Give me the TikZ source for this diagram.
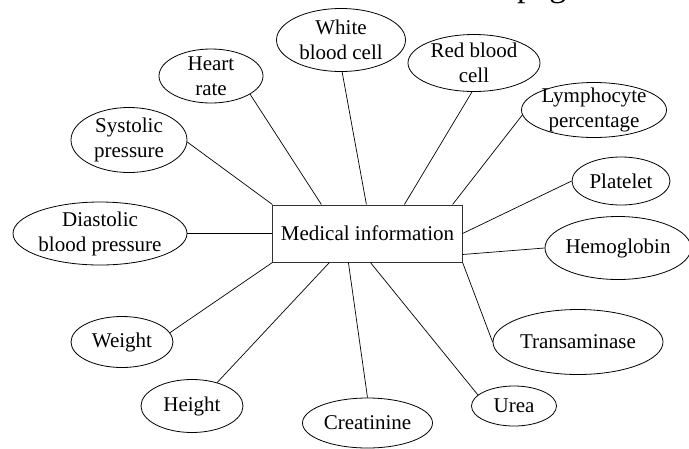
\documentclass[tikz,border=0pt]{standalone}
\usepackage{fontspec}
\setmainfont{Liberation Serif}
\usepackage{tikz}
\usetikzlibrary{shapes.geometric,positioning}
\tikzset{
    attr/.style={
        draw=black,
        fill=white,
        ellipse,
        inner sep=-4pt,
        align=center,
        line width=0.8pt,
        font=\fontsize{21}{25}\selectfont
    },
    entity/.style={
        draw=black!80,
        fill=white,
        rectangle,
        inner xsep=8pt,
        minimum width=189pt,
        minimum height=57pt,
        line width=1pt,
        font=\fontsize{21}{25}\selectfont
    },
    link/.style={
        draw=black,
        line width=0.7pt
    }
}

\begin{document}
\begin{tikzpicture}[x=1pt, y=-1pt, on grid]
    \useasboundingbox (0,0) rectangle (689,448);
    \clip (0,0) rectangle (689,448);

    % Cut-off caption at the top
    \node[anchor=south west, inner sep=0pt, font=\fontsize{34}{40}\selectfont] (capt) at (517,4) {page};

    % Centre
    \node[entity] (med) at (367.5,233.5) {Medical information};

    % Upper ring
    \node[attr, minimum width=129pt, minimum height=63pt, above left=193.5pt and 26.5pt of med] (wbc) {White\\blood cell};
    \node[attr, minimum width=132pt, minimum height=57pt, above right=170.5pt and 106.5pt of med] (rbc) {Red blood\\cell};
    \node[attr, minimum width=104pt, minimum height=54pt, above left=157.5pt and 156.5pt of med] (hr) {Heart\\rate};
    \node[attr, minimum width=145pt, minimum height=55pt, above right=123.5pt and 226.5pt of med] (lym) {Lymphocyte\\percentage};
    \node[attr, minimum width=116pt, minimum height=65pt, above left=93.5pt and 238.5pt of med] (sys) {Systolic\\pressure};
    \node[attr, minimum width=98pt, minimum height=48pt, above right=52.5pt and 253.5pt of med] (plt) {Platelet};

    % Middle
    \node[attr, minimum width=174pt, minimum height=63pt, left=267.5pt of med] (dia) {Diastolic\\blood pressure};
    \node[attr, minimum width=146pt, minimum height=63pt, below right=14.5pt and 250.5pt of med] (hgb) {Hemoglobin};

    % Lower ring
    \node[attr, minimum width=170pt, minimum height=65pt, below right=108.5pt and 210.5pt of med] (tra) {Transaminase};
    \node[attr, minimum width=85pt, minimum height=40pt, below right=172.5pt and 146.5pt of med] (urea) {Urea};
    \node[attr, minimum width=130pt, minimum height=50pt, below=189.5pt of med] (crea) {Creatinine};
    \node[attr, minimum width=102pt, minimum height=53pt, below left=172.5pt and 175.5pt of med] (hgt) {Height};
    \node[attr, minimum width=102pt, minimum height=51pt, below left=108.5pt and 245.5pt of med] (wgt) {Weight};

    % Connections
    \draw[link] (hr.-25) -- ([xshift=49pt]med.north west);
    \draw[link] (wbc.-88) -- ([xshift=94pt]med.north west);
    \draw[link] (rbc.-94) -- ([xshift=132pt]med.north west);
    \draw[link] (lym.184) -- ([xshift=-10pt]med.north east);
    \draw[link] (sys.-2) -- (med.north west);
    \draw[link] (dia.east) -- (med.west);
    \draw[link] (plt.west) -- (med.east);
    \draw[link] (hgb.west) -- ([yshift=8pt]med.south east);
    \draw[link] (tra.west) -- (med.south east);
    \draw[link] (urea.163) -- ([xshift=98pt]med.south west);
    \draw[link] (crea.north) -- ([xshift=76pt]med.south west);
    \draw[link] (hgt.43) -- ([xshift=57pt]med.south west);
    \draw[link] (wgt.11) -- (med.south west);
\end{tikzpicture}
\end{document}
